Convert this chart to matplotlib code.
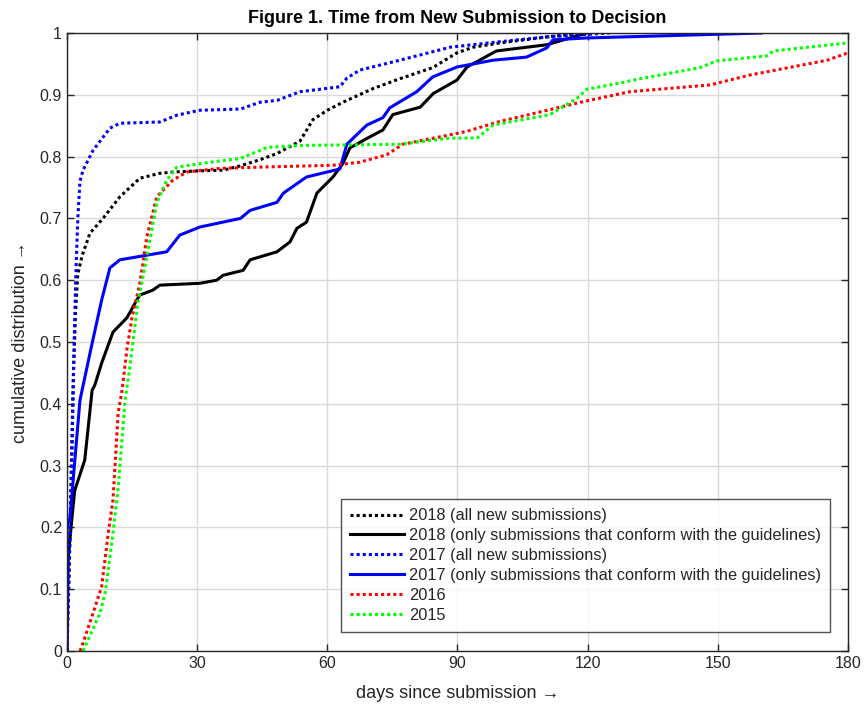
import matplotlib
matplotlib.use("Agg")
import matplotlib.pyplot as plt

# --- data (days, cumulative fraction) ---
d18_all = [0, 0.5, 1, 1.5, 2, 2.5, 3.5, 5.3, 8.3, 12.2, 16.8, 21.4, 24.4, 30.6, 36, 39.9, 44.5, 48.4,
           53.7, 56.7, 60, 63.6, 70.5, 76.7, 84.3, 89.9, 93.6, 99.8, 111, 119.8]
c18_all = [0, 0.12, 0.3, 0.45, 0.55, 0.61, 0.64, 0.676, 0.70, 0.735, 0.765, 0.773, 0.775, 0.777, 0.778,
           0.785, 0.795, 0.805, 0.825, 0.86, 0.875, 0.888, 0.91, 0.926, 0.944, 0.968, 0.977, 0.984, 0.994, 1.0]

d18_ok = [0, 0.3, 1.1, 1.8, 4.1, 5.8, 6.4, 8, 10.6, 13.8, 16.1, 16.8, 19.8, 21.4, 30.6, 34.5, 36, 40.6,
          42.2, 48.4, 51.4, 53, 55.2, 57.6, 61.3, 63.6, 65.2, 69.8, 72.8, 75.1, 81.4, 84.4, 89.9, 92.2,
          99, 110.6, 119.8]
c18_ok = [0, 0.15, 0.212, 0.26, 0.309, 0.422, 0.43, 0.466, 0.516, 0.539, 0.568, 0.576, 0.584, 0.592,
          0.595, 0.6, 0.608, 0.616, 0.633, 0.646, 0.662, 0.684, 0.694, 0.741, 0.767, 0.789, 0.814, 0.832,
          0.843, 0.868, 0.88, 0.902, 0.924, 0.945, 0.971, 0.981, 1.0]

d17_all = [0, 0.3, 1, 1.5, 2, 2.5, 3, 3.7, 6, 9.9, 12.2, 21.4, 25.3, 30.6, 40, 44.5, 48.4, 53.7, 62.9,
           64.5, 67.5, 76.7, 88.3, 99.8, 111, 125]
c17_all = [0, 0.1, 0.25, 0.45, 0.6, 0.7, 0.76, 0.778, 0.81, 0.846, 0.854, 0.856, 0.867, 0.875, 0.877,
           0.888, 0.891, 0.905, 0.913, 0.927, 0.94, 0.956, 0.977, 0.986, 0.994, 1.0]

d17_ok = [0, 0.05, 0.7, 3, 5.8, 8, 9.9, 12.2, 23, 26, 30.6, 40, 42.2, 48.4, 49.9, 55.2, 62.9, 64.5,
          69.1, 72.8, 74.4, 80.6, 84.3, 89.9, 98.2, 105.9, 110.6, 112, 119.8, 140, 160]
c17_ok = [0, 0.2, 0.217, 0.406, 0.498, 0.568, 0.62, 0.633, 0.646, 0.673, 0.686, 0.700, 0.713, 0.726,
          0.741, 0.767, 0.78, 0.82, 0.851, 0.863, 0.879, 0.905, 0.929, 0.945, 0.956, 0.961, 0.976,
          0.989, 0.992, 0.996, 1.0]

d16 = [3, 3.7, 6, 8, 9.5, 10.6, 11.8, 12.7, 13.8, 15, 16.8, 18.4, 20.7, 24.4, 27.6, 35.3, 44.5, 61.3,
       67.5, 73.7, 77.4, 86, 92.2, 99.8, 111.3, 119, 129.7, 148.2, 157.4, 175.2, 180]
c16 = [0, 0.013, 0.061, 0.104, 0.19, 0.244, 0.385, 0.422, 0.487, 0.54, 0.595, 0.67, 0.735, 0.762, 0.775,
       0.781, 0.783, 0.786, 0.791, 0.803, 0.82, 0.832, 0.841, 0.857, 0.876, 0.889, 0.905, 0.916, 0.932,
       0.956, 0.968]

d15 = [3.7, 7.6, 8.8, 10.6, 11.8, 13.4, 14.5, 16.4, 16.8, 18.4, 20.7, 23, 25.3, 33, 39.9, 44.5, 46.1,
       53.7, 76.7, 88.3, 94.5, 98.2, 111.3, 117.5, 119.8, 128.1, 131.3, 145.9, 149.8, 161.3, 162.8, 180]
c15 = [0.0, 0.061, 0.094, 0.19, 0.265, 0.406, 0.46, 0.568, 0.579, 0.638, 0.725, 0.762, 0.783, 0.791,
       0.797, 0.81, 0.815, 0.818, 0.82, 0.83, 0.83, 0.851, 0.868, 0.894, 0.909, 0.92, 0.925, 0.944,
       0.955, 0.963, 0.971, 0.984]

labels = [
    "2018 (all new submissions)",
    "2018 (only submissions that conform with the guidelines)",
    "2017 (all new submissions)",
    "2017 (only submissions that conform with the guidelines)",
    "2016",
    "2015",
]
x_ticks = [0, 30, 60, 90, 120, 150, 180]
y_ticks = [0, 0.1, 0.2, 0.3, 0.4, 0.5, 0.6, 0.7, 0.8, 0.9, 1]
y_ticklabels = ["0", "0.1", "0.2", "0.3", "0.4", "0.5", "0.6", "0.7", "0.8", "0.9", "1"]

plt.rcParams.update({
    "font.family": ["Liberation Sans", "DejaVu Sans"],
    "font.size": 11,
})

fig = plt.figure(figsize=(8.64, 7.10), dpi=100)
ax = fig.add_axes([0.0775, 0.0831, 0.904, 0.8704])

dot = (1.0, 1.0)
series = [
    (d18_all, c18_all, "black", dot),
    (d18_ok, c18_ok, "black", None),
    (d17_all, c17_all, (0, 0, 1), dot),
    (d17_ok, c17_ok, (0, 0, 1), None),
    (d16, c16, (1, 0, 0), dot),
    (d15, c15, (0, 1, 0), dot),
]
for (x, y, col, dash), lab in zip(series, labels):
    if dash is None:
        ax.plot(x, y, color=col, lw=2.2, label=lab, solid_joinstyle="round")
    else:
        ax.plot(x, y, color=col, lw=2.2, dashes=dash, label=lab)

ax.set_xlim(0, 180)
ax.set_ylim(0, 1)
ax.set_xticks(x_ticks)
ax.set_yticks(y_ticks)
ax.set_yticklabels(y_ticklabels)
ax.grid(True, color="0.85", lw=1.0)
ax.set_axisbelow(True)
ax.tick_params(direction="in", top=True, right=True, length=5, width=1, colors="0.15",
               labelsize=11.5, labelcolor="0.15")
for sp in ax.spines.values():
    sp.set_color("0.15")
    sp.set_linewidth(1.0)

ax.set_xlabel("days since submission \u2192", fontsize=13, color="0.15", labelpad=10)
ax.set_ylabel("cumulative distribution \u2192", fontsize=13, color="0.15", labelpad=8)
ax.set_title("Figure 1. Time from New Submission to Decision", fontsize=13, fontweight="bold",
             pad=7)

leg = ax.legend(loc="lower right", bbox_to_anchor=(0.977, 0.031), borderaxespad=0,
                fontsize=11.8, handlelength=3.3, handletextpad=0.3, labelspacing=0.3,
                frameon=True, fancybox=False, borderpad=0.55)
leg.get_frame().set_edgecolor("0.15")
leg.get_frame().set_linewidth(1.0)
for t in leg.get_texts():
    t.set_color("0.15")

fig.savefig("out.png", dpi=100)
